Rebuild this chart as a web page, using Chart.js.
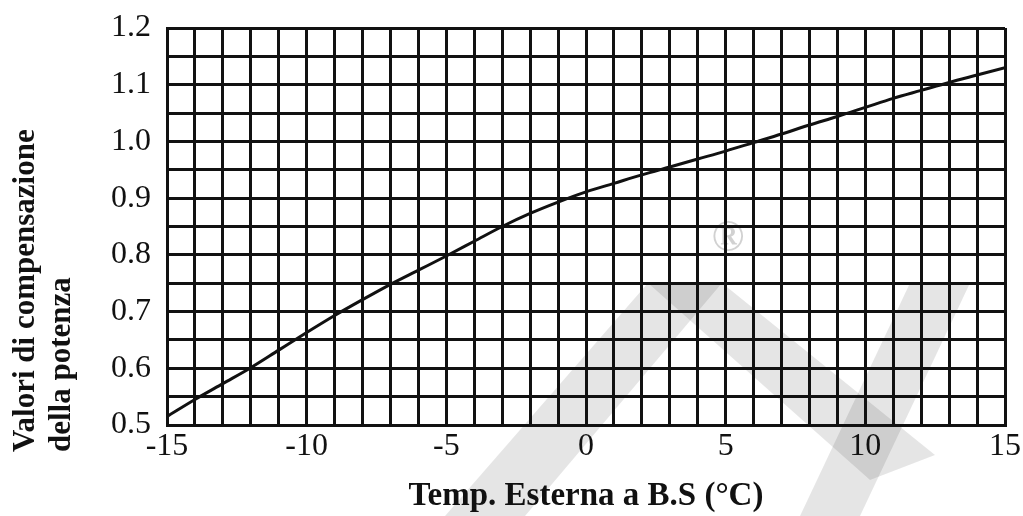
<!DOCTYPE html>
<html>
<head>
<meta charset="utf-8">
<script src="https://cdn.jsdelivr.net/npm/chart.js@4/dist/chart.umd.min.js"></script>
<style>
  html, body { margin: 0; padding: 0; background: #fff; }
  #wrap { width: 1023px; height: 516px; }
</style>
</head>
<body>
<div id="wrap"><canvas id="powerChart" width="1023" height="516"></canvas></div>
<script>
// outdoor dry-bulb temperature (°C)
const temps = [-15, -14, -13, -12, -11, -10, -9, -8, -7, -6, -5, -4, -3, -2, -1, 0,
  1, 2, 3, 4, 5, 6, 7, 8, 9, 10, 11, 12, 13, 14, 15];
// capacity correction factor
const factors = [0.515, 0.545, 0.573, 0.601, 0.632, 0.663, 0.693, 0.721, 0.748, 0.773,
  0.798, 0.824, 0.85, 0.873, 0.893, 0.911, 0.926, 0.941, 0.955, 0.969, 0.983, 0.998,
  1.013, 1.029, 1.044, 1.06, 1.076, 1.09, 1.104, 1.117, 1.13];

const yTitleLines = ["Valori di compensazione", "della potenza"];
const xTitle = "Temp. Esterna a B.S (°C)";

const serif = "'Liberation Serif', 'DejaVu Serif', serif";

// faint logo sitting behind the grid
const watermark = {
  id: "watermark",
  beforeDraw(chart) {
    const ctx = chart.ctx;
    ctx.save();
    ctx.fillStyle = "rgba(0,0,0,0.1)";
    const bands = [
      [[445, 516], [525, 516], [722, 283], [648, 283]],
      [[648, 283], [722, 283], [935, 455], [870, 480]],
      [[800, 516], [860, 516], [970, 283], [910, 283]],
    ];
    for (const b of bands) {
      ctx.beginPath();
      ctx.moveTo(b[0][0], b[0][1]);
      for (let i = 1; i < b.length; i++) ctx.lineTo(b[i][0], b[i][1]);
      ctx.closePath();
      ctx.fill();
    }
    ctx.fillStyle = "rgba(0,0,0,0.18)";
    ctx.font = "bold 44px " + serif;
    ctx.textAlign = "center";
    ctx.textBaseline = "middle";
    ctx.fillText("®", 728, 240);
    ctx.restore();
  },
};

// two-line rotated title on the left
const yTitle = {
  id: "yTitle",
  afterDraw(chart) {
    const ctx = chart.ctx;
    ctx.save();
    ctx.font = "bold 31px " + serif;
    ctx.fillStyle = "#111";
    ctx.textAlign = "left";
    ctx.textBaseline = "alphabetic";
    const baselines = [34, 70];
    yTitleLines.forEach((line, i) => {
      ctx.save();
      ctx.translate(baselines[i], 452);
      ctx.rotate(-Math.PI / 2);
      ctx.fillText(line, 0, 0);
      ctx.restore();
    });
    ctx.restore();
  },
};

const ctx = document.getElementById("powerChart").getContext("2d");
new Chart(ctx, {
  type: "line",
  data: {
    datasets: [{
      data: temps.map((t, i) => ({ x: t, y: factors[i] })),
      borderColor: "#111",
      borderWidth: 3,
      pointRadius: 0,
      cubicInterpolationMode: "monotone",
      fill: false,
    }],
  },
  options: {
    responsive: false,
    animation: false,
    events: [],
    layout: { padding: { top: 28, right: 18, left: 0, bottom: 0 } },
    plugins: { legend: { display: false }, tooltip: { enabled: false } },
    scales: {
      x: {
        type: "linear",
        min: -15,
        max: 15,
        afterFit: (scale) => {
          scale.height = 91;
          scale.paddingLeft = 0;
          scale.paddingRight = 0;
        },
        grid: { color: "#111", lineWidth: 3, drawTicks: false },
        border: { color: "#111", width: 3 },
        ticks: {
          stepSize: 1,
          autoSkip: false,
          maxRotation: 0,
          padding: 2,
          color: "#111",
          font: { family: serif, size: 32 },
          callback: (v) => (v % 5 === 0 ? String(v) : ""),
        },
        title: {
          display: true,
          text: xTitle,
          color: "#111",
          font: { family: serif, size: 33, weight: "bold" },
          padding: { top: 0, bottom: 0 },
        },
      },
      y: {
        min: 0.5,
        max: 1.2,
        afterFit: (scale) => {
          scale.width = 167;
          scale.paddingTop = 0;
          scale.paddingBottom = 0;
        },
        grid: { color: "#111", lineWidth: 3, drawTicks: false },
        border: { color: "#111", width: 3 },
        ticks: {
          stepSize: 0.05,
          autoSkip: false,
          padding: 16,
          color: "#111",
          font: { family: serif, size: 32 },
          callback: (v) => {
            const n = Math.round(v * 100);
            return n % 10 === 0 ? (n / 100).toFixed(1) : "";
          },
        },
      },
    },
  },
  plugins: [watermark, yTitle],
});
</script>
</body>
</html>
